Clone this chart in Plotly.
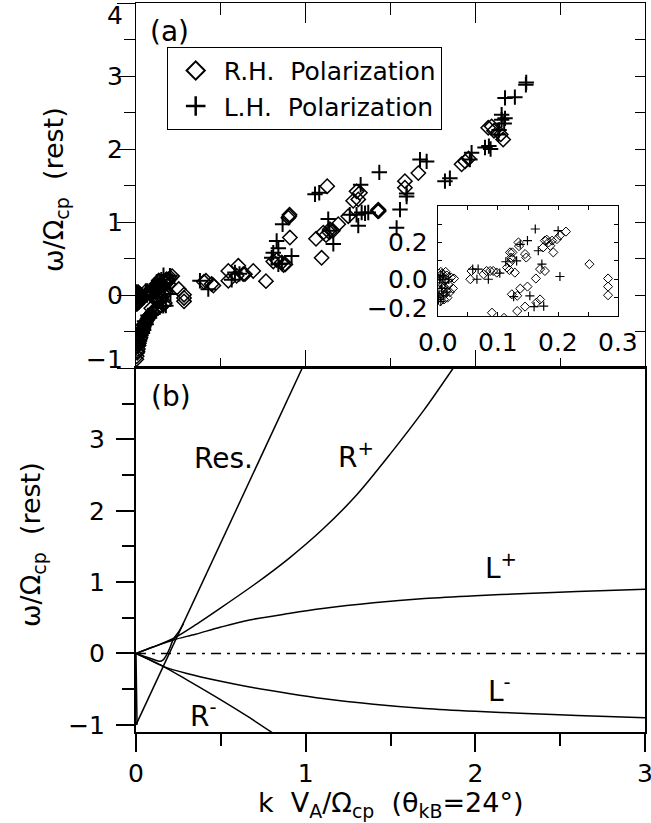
import plotly.graph_objects as go

# ---------------- data ----------------
# (a) observed wave frequencies, R.H. polarization (diamonds)
rh_k = [0.002, 0.004, 0.006, 0.003, 0.008, 0.010, 0.012, 0.015, 0.005, 0.018, 0.020, 0.027, 0.004, 0.010,
        0.001, 0.003, 0.007, 0.011, 0.014, 0.016, 0.022, 0.025, 0.013,
        0.054, 0.056, 0.076, 0.081, 0.087, 0.092, 0.098, 0.115, 0.119, 0.120, 0.122, 0.120, 0.124, 0.123,
        0.128, 0.134, 0.135, 0.145, 0.147, 0.175, 0.178, 0.181, 0.184, 0.187, 0.190, 0.192, 0.198, 0.203,
        0.213, 0.170, 0.178, 0.163, 0.149, 0.137, 0.123, 0.132, 0.164, 0.170, 0.145, 0.132, 0.090, 0.252,
        0.283, 0.283, 0.283,
        0.004, 0.007, 0.011, 0.015, 0.020, 0.026, 0.032, 0.040, 0.048, 0.058, 0.068, 0.078, 0.090, 0.100, 0.110,
        0.002, 0.006, 0.012, 0.020, 0.030, 0.009, 0.017, 0.024, 0.036, 0.044, 0.053, 0.063, 0.073, 0.084, 0.095,
        0.400, 0.412, 0.446, 0.456, 0.544, 0.544, 0.603, 0.593, 0.632, 0.642, 0.691, 0.766, 0.809, 0.830,
        0.859, 0.870, 0.880, 0.907, 0.898, 0.903, 0.905, 1.061, 1.094, 1.104, 1.127, 1.160, 1.120, 1.140,
        1.143, 1.192, 1.251, 1.280, 1.300, 1.310, 1.320, 1.425, 1.428, 1.431, 1.428, 1.585, 1.585, 1.664,
        1.919, 1.940, 1.960, 2.076, 2.096, 2.110, 2.164, 2.150]
rh_w = [0.030, -0.020, -0.060, -0.100, 0.010, -0.040, -0.080, 0.020, 0.040, -0.030, -0.070, 0.004, -0.120, -0.110,
        -0.050, 0.000, 0.030, -0.010, -0.060, -0.100, 0.010, -0.050, 0.040,
        0.000, 0.045, 0.027, 0.045, 0.045, 0.045, 0.036, 0.064, 0.050, 0.091, 0.118, 0.146, 0.146, 0.110,
        0.036, 0.200, 0.180, 0.137, 0.118, 0.173, 0.210, 0.215, 0.200, 0.182, 0.210, 0.146, 0.218, 0.237,
        0.259, 0.055, 0.045, 0.004, -0.040, -0.051, -0.082, -0.090, -0.127, -0.110, -0.149, -0.173, -0.182, 0.082,
        0.004, -0.040, -0.087,
        -0.84, -0.79, -0.74, -0.69, -0.63, -0.58, -0.52, -0.47, -0.42, -0.37, -0.33, -0.29, -0.26, -0.23, -0.21,
        -0.88, -0.70, -0.62, -0.55, -0.44, -0.77, -0.66, -0.60, -0.50, -0.45, -0.40, -0.35, -0.31, -0.27, -0.24,
        0.180, 0.195, 0.150, 0.130, 0.330, 0.195, 0.400, 0.263, 0.286, 0.286, 0.330, 0.190, 0.460, 0.480,
        0.446, 0.410, 0.420, 0.787, 1.060, 1.080, 1.100, 0.770, 0.510, 0.855, 1.490, 0.880, 0.820, 0.860,
        0.900, 0.970, 1.080, 1.290, 1.420, 1.310, 1.400, 1.150, 1.150, 1.150, 1.170, 1.560, 1.470, 1.670,
        1.790, 1.830, 1.870, 2.290, 2.310, 2.250, 2.130, 2.200]

# (a) observed wave frequencies, L.H. polarization (crosses)
lh_k = [0.003, 0.006, 0.004, 0.009, 0.012, 0.002, 0.008, 0.015, 0.018, 0.001, 0.005,
        0.058, 0.067, 0.065, 0.084, 0.103, 0.113, 0.131, 0.137, 0.149, 0.162, 0.167, 0.200, 0.173,
        0.126, 0.153, 0.160, 0.176, 0.203,
        0.020, 0.030, 0.045, 0.060, 0.080, 0.100, 0.010, 0.050, 0.070, 0.014, 0.038, 0.090,
        0.377, 0.426, 0.564, 0.583, 0.610, 0.800, 0.839, 0.860, 0.917, 0.809, 0.839, 0.829, 0.864,
        1.055, 1.080, 1.133, 1.163, 1.140, 1.260, 1.300, 1.310, 1.324, 1.330, 1.369, 1.350, 1.434,
        1.536, 1.556, 1.595, 1.595, 1.674, 1.713, 1.821, 1.850, 1.968, 1.978, 2.057, 2.080, 2.090,
        2.135, 2.140, 2.155, 2.175, 2.170, 2.155, 2.175, 2.233, 2.298, 2.300]
lh_w = [0.000, -0.050, 0.020, -0.090, -0.020, -0.080, 0.020, -0.070, 0.000, -0.110, -0.120,
        0.055, 0.055, 0.000, 0.000, 0.033, 0.095, 0.100, 0.190, 0.210, 0.273, 0.155, 0.264, 0.082,
        -0.095, -0.090, -0.149, -0.146, 0.015,
        -0.62, -0.55, -0.48, -0.40, -0.31, -0.26, -0.70, -0.36, -0.28, -0.66, -0.52, -0.27,
        0.195, 0.080, 0.210, 0.310, 0.290, 0.510, 0.420, 0.430, 0.536, 0.580, 0.640, 0.740, 0.970,
        1.380, 1.400, 1.040, 0.700, 0.880, 1.100, 1.100, 0.950, 1.510, 1.130, 1.130, 1.120, 1.680,
        0.920, 1.170, 1.350, 1.390, 1.855, 1.830, 1.560, 1.600, 1.855, 1.950, 2.020, 2.040, 2.000,
        2.200, 2.260, 2.400, 2.420, 2.350, 2.470, 2.700, 2.710, 2.880, 2.910]

# (b) dispersion branches, theta_kB = 24 deg
res_k = [0.0, 0.98]
res_w = [-1.0, 4.0]
hook_k = [0.0, 0.05, 0.10, 0.14, 0.16, 0.18, 0.20, 0.22, 0.25, 0.28]
hook_w = [0.0, -0.04, -0.08, -0.11, -0.09, -0.02, 0.08, 0.20, 0.30, 0.42]
stem_k = [0.0, 0.003, 0.006]
stem_w = [0.0, -0.5, -1.0]
rp_k = [0.0, 0.10, 0.22, 0.35, 0.50, 0.70, 0.90, 1.10, 1.30, 1.50, 1.70, 1.87]
rp_w = [0.0, 0.09, 0.21, 0.40, 0.64, 0.97, 1.33, 1.74, 2.22, 2.80, 3.42, 4.00]
lp_k = [0.0, 0.10, 0.22, 0.35, 0.50, 0.67, 0.90, 1.10, 1.40, 1.70, 2.00, 2.30, 2.60, 3.00]
lp_w = [0.0, 0.09, 0.19, 0.27, 0.37, 0.47, 0.56, 0.63, 0.71, 0.77, 0.81, 0.84, 0.87, 0.90]
lm_k = [0.0, 0.08, 0.16, 0.30, 0.50, 0.67, 0.90, 1.10, 1.40, 1.70, 2.00, 2.30, 2.60, 3.00]
lm_w = [0.0, -0.09, -0.18, -0.28, -0.39, -0.47, -0.56, -0.63, -0.71, -0.77, -0.81, -0.84, -0.87, -0.90]
rm_k = [0.0, 0.16, 0.30, 0.50, 0.67, 0.81]
rm_w = [0.0, -0.18, -0.37, -0.65, -0.90, -1.12]
zero_k = [0.0, 3.0]
zero_w = [0.0, 0.0]

# tick values
main_y_ticks = [4, 3, 2, 1, 0, -1]
low_y_ticks = [-1, 0, 1, 2, 3]
x_ticks = [0, 1, 2, 3]
inset_x_ticks = [0.0, 0.1, 0.2, 0.3]
inset_y_ticks = [0.2, 0.0, -0.2]

FONT = "DejaVu Sans"
W, H = 651, 823
SPLIT = 0.4993

fig = go.Figure()

# ---- panel (a) ----
fig.add_trace(go.Scatter(x=rh_k, y=rh_w, xaxis="x2", yaxis="y2", mode="markers",
                         marker=dict(symbol="diamond-open", size=11, color="black",
                                     line=dict(width=1.5, color="black")),
                         showlegend=False, hoverinfo="skip"))
fig.add_trace(go.Scatter(x=lh_k, y=lh_w, xaxis="x2", yaxis="y2", mode="markers",
                         marker=dict(symbol="cross-thin-open", size=11, color="black",
                                     line=dict(width=2, color="black")),
                         showlegend=False, hoverinfo="skip"))
# legend entries
fig.add_trace(go.Scatter(x=[None], y=[None], xaxis="x2", yaxis="y2", mode="markers",
                         name="R.H.  Polarization",
                         marker=dict(symbol="diamond-open", size=14, color="black",
                                     line=dict(width=2, color="black"))))
fig.add_trace(go.Scatter(x=[None], y=[None], xaxis="x2", yaxis="y2", mode="markers",
                         name="L.H.  Polarization",
                         marker=dict(symbol="cross-thin-open", size=14, color="black",
                                     line=dict(width=2.5, color="black"))))
# carriers for the top / right frame axes of panel (a)
fig.add_trace(go.Scatter(x=[None], y=[None], xaxis="x3", yaxis="y2", showlegend=False, hoverinfo="skip"))
fig.add_trace(go.Scatter(x=[None], y=[None], xaxis="x2", yaxis="y3", showlegend=False, hoverinfo="skip"))

# ---- inset ----
fig.add_trace(go.Scatter(x=rh_k, y=rh_w, xaxis="x4", yaxis="y4", mode="markers",
                         marker=dict(symbol="diamond-open", size=7, color="black",
                                     line=dict(width=1, color="black")),
                         showlegend=False, hoverinfo="skip"))
fig.add_trace(go.Scatter(x=lh_k, y=lh_w, xaxis="x4", yaxis="y4", mode="markers",
                         marker=dict(symbol="cross-thin-open", size=6.5, color="black",
                                     line=dict(width=1.2, color="black")),
                         showlegend=False, hoverinfo="skip"))

# ---- panel (b) ----
line = dict(color="black", width=1.5)
for kx, wy in [(res_k, res_w), (hook_k, hook_w), (stem_k, stem_w), (rp_k, rp_w),
               (lp_k, lp_w), (lm_k, lm_w), (rm_k, rm_w)]:
    fig.add_trace(go.Scatter(x=kx, y=wy, mode="lines", line=dict(line, shape="spline", smoothing=0.8),
                             showlegend=False, hoverinfo="skip"))
fig.add_trace(go.Scatter(x=zero_k, y=zero_w, mode="lines",
                         line=dict(color="black", width=1.5, dash="10px,6px,3px,6px"),
                         showlegend=False, hoverinfo="skip"))

tickfont = dict(family=FONT, size=25, color="black")

fig.update_layout(
    width=W, height=H,
    margin=dict(l=136, r=6, t=3, b=91, autoexpand=False),
    paper_bgcolor="white", plot_bgcolor="white",
    font=dict(family=FONT, color="black"),
    showlegend=True,
    legend=dict(x=0.0603, y=0.940, xanchor="left", yanchor="top",
                bgcolor="white", bordercolor="black", borderwidth=1,
                font=dict(family=FONT, size=25, color="black"),
                itemsizing="trace", tracegroupgap=0, itemwidth=46),
    # panel (b)
    xaxis=dict(domain=[0, 1], anchor="y", range=[0, 3], tickvals=x_ticks, automargin=False,
               ticks="outside", ticklen=18, tickwidth=2, tickcolor="black",
               minor=dict(tickvals=[0.5, 1.5, 2.5], ticklen=12, tickwidth=2, tickcolor="black", ticks="outside"),
               showline=True, linewidth=2, linecolor="black", mirror=True,
               showgrid=False, zeroline=False, tickfont=tickfont, ticklabeloverflow="allow"),
    yaxis=dict(domain=[0, SPLIT], anchor="x", range=[-1.1, 4.0], tickvals=low_y_ticks, automargin=False,
               ticktext=["\u22121", "0", "1", "2", "3"],
               ticks="outside", ticklen=18, tickwidth=2, tickcolor="black",
               minor=dict(tickvals=[-0.5, 0.5, 1.5, 2.5, 3.5], ticklen=12, tickwidth=2,
                          tickcolor="black", ticks="outside"),
               showline=True, linewidth=2, linecolor="black", mirror=True,
               showgrid=False, zeroline=False, tickfont=tickfont, ticklabelstandoff=6),
    # panel (a)
    xaxis2=dict(domain=[0, 1], anchor="y2", range=[0, 3], tickvals=x_ticks, automargin=False,
                ticks="inside", ticklen=18, tickwidth=1, tickcolor="black",
                minor=dict(tickvals=[0.5, 1.5, 2.5], ticklen=10, tickwidth=1, tickcolor="black", ticks="inside"),
                showticklabels=False, showline=True, linewidth=1, linecolor="black",
                showgrid=False, zeroline=False),
    yaxis2=dict(domain=[SPLIT, 1], anchor="x2", range=[-1, 4], tickvals=main_y_ticks, automargin=False,
                ticks="outside", ticklen=18, tickwidth=1, tickcolor="black",
                minor=dict(tickvals=[-0.5, 0.5, 1.5, 2.5, 3.5], ticklen=11, tickwidth=1,
                           tickcolor="black", ticks="outside"),
                showticklabels=False, showline=True, linewidth=1, linecolor="black",
                showgrid=False, zeroline=False),
    xaxis3=dict(overlaying="x2", side="top", anchor="y2", range=[0, 3], tickvals=x_ticks, automargin=False,
                ticks="inside", ticklen=20, tickwidth=1, tickcolor="black",
                minor=dict(tickvals=[0.5, 1.5, 2.5], ticklen=12, tickwidth=1, tickcolor="black", ticks="inside"),
                showticklabels=False, showline=True, linewidth=1, linecolor="black",
                showgrid=False, zeroline=False),
    yaxis3=dict(overlaying="y2", side="right", anchor="x2", range=[-1, 4], automargin=False,
                tickvals=[-0.5, 0, 0.5, 1, 1.5, 2, 2.5, 3, 3.5],
                ticks="inside", ticklen=10, tickwidth=1, tickcolor="black",
                showticklabels=False, showline=True, linewidth=1, linecolor="black",
                showgrid=False, zeroline=False),
    # inset
    xaxis4=dict(domain=[0.593, 0.9475], anchor="y4", range=[0, 0.3], automargin=False,
                tickvals=[0.05, 0.1, 0.15, 0.2, 0.25], ticks="inside", ticklen=4, tickwidth=1,
                tickcolor="black", mirror="ticks", showticklabels=False,
                showline=True, linewidth=1, linecolor="black", showgrid=False, zeroline=False),
    yaxis4=dict(domain=[0.5706, 0.722], anchor="x4", range=[-0.2, 0.4], automargin=False,
                tickvals=[-0.1, 0.0, 0.1, 0.2, 0.3], ticks="inside", ticklen=4, tickwidth=1,
                tickcolor="black", mirror="ticks", showticklabels=False,
                showline=True, linewidth=1, linecolor="black", showgrid=False, zeroline=False),
)

ann = []
# panel (a) y tick labels
for v in main_y_ticks:
    shift = -12 if v == 4 else (9 if v == -1 else 0)
    ann.append(dict(x=-0.0216, xref="paper", y=v, yref="y2", yshift=shift,
                    text=("\u2212" + str(-v)) if v < 0 else str(v),
                    xanchor="right", yanchor="middle", showarrow=False, font=tickfont))
# inset tick labels
for v in inset_x_ticks:
    ann.append(dict(x=v, xref="x4", y=(732 - 342) / 729, yref="paper", text=f"{v:.1f}",
                    xanchor="center", yanchor="middle", showarrow=False, font=tickfont))
for v in inset_y_ticks:
    ann.append(dict(x=(430 - 136) / 509, xref="paper", y=v, yref="y4", yshift=(8 if v < 0 else 0),
                    text=("\u2212" + f"{-v:.1f}") if v < 0 else f"{v:.1f}",
                    xanchor="right", yanchor="middle", showarrow=False, font=tickfont))
# axis titles
titlefont = dict(family=FONT, size=27, color="black")
ytitle = "\u03c9/\u03a9<sub>cp</sub>  (rest)"
ann.append(dict(x=(55 - 136) / 509, xref="paper", y=(732 - 190) / 729, yref="paper", text=ytitle,
                textangle=-90, showarrow=False, xanchor="center", yanchor="middle", font=titlefont))
ann.append(dict(x=(32 - 136) / 509, xref="paper", y=(732 - 545) / 729, yref="paper", text=ytitle,
                textangle=-90, showarrow=False, xanchor="center", yanchor="middle", font=titlefont))
ann.append(dict(x=0.5, xref="paper", y=(732 - 804) / 729, yref="paper",
                text="k  V<sub>A</sub>/\u03a9<sub>cp</sub>  (\u03b8<sub>kB</sub>=24\u00b0)",
                showarrow=False, xanchor="center", yanchor="middle", font=titlefont))
# panel letters and branch labels
lab = dict(family=FONT, size=28, color="black")
ann.append(dict(x=0.2, xref="x2", y=3.615, yref="y2", text="(a)", showarrow=False, font=lab))
ann.append(dict(x=0.206, xref="x", y=3.6, yref="y", text="(b)", showarrow=False, font=lab))
ann.append(dict(x=0.513, xref="x", y=2.73, yref="y", text="Res.", showarrow=False, font=lab))
ann.append(dict(x=1.296, xref="x", y=2.78, yref="y", text="R<sup>+</sup>", showarrow=False, font=lab))
ann.append(dict(x=2.15, xref="x", y=1.22, yref="y", text="L<sup>+</sup>", showarrow=False, font=lab))
ann.append(dict(x=2.145, xref="x", y=-0.5, yref="y", text="L<sup>-</sup>", showarrow=False, font=lab))
ann.append(dict(x=0.40, xref="x", y=-0.86, yref="y", text="R<sup>-</sup>", showarrow=False, font=lab))
fig.update_layout(annotations=ann)

fig.write_html("out.html")
